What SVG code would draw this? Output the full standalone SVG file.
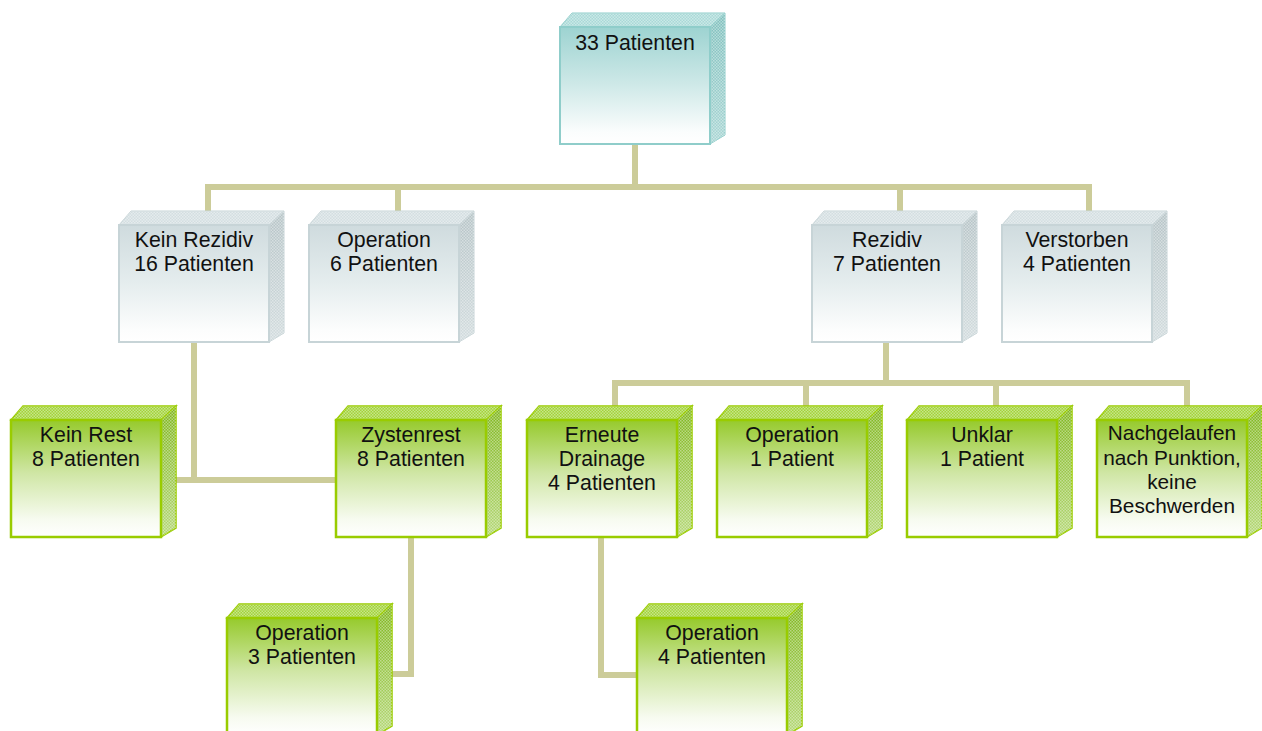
<svg xmlns="http://www.w3.org/2000/svg" xmlns:xlink="http://www.w3.org/1999/xlink" width="1262" height="731" viewBox="0 0 1262 731">
  <style>
    .lbl { font-family: "Liberation Sans", Arial, sans-serif; font-size: 21.3px; fill: #111; text-anchor: middle; }
    .conn { fill: none; stroke: #CCCC99; stroke-width: 6; }
  </style>
  <defs>
    <!-- front face gradients -->
    <linearGradient id="gTealFront" x1="0" y1="0" x2="0" y2="1">
      <stop offset="0" stop-color="#9dd3d1"/>
      <stop offset="0.5" stop-color="#cfe9e8"/>
      <stop offset="0.9" stop-color="#fbfdfd"/>
      <stop offset="1" stop-color="#ffffff"/>
    </linearGradient>
    <linearGradient id="gGrayFront" x1="0" y1="0" x2="0" y2="1">
      <stop offset="0" stop-color="#cfdbde"/>
      <stop offset="0.5" stop-color="#e5edee"/>
      <stop offset="0.9" stop-color="#fcfdfd"/>
      <stop offset="1" stop-color="#ffffff"/>
    </linearGradient>
    <linearGradient id="gGreenFront" x1="0" y1="0" x2="0" y2="1">
      <stop offset="0" stop-color="#96ca2c"/>
      <stop offset="0.45" stop-color="#cfe6a4"/>
      <stop offset="0.85" stop-color="#f7fbf0"/>
      <stop offset="1" stop-color="#ffffff"/>
    </linearGradient>
    <!-- side face gradients -->
    <linearGradient id="gTealSide" x1="0" y1="0" x2="0" y2="1">
      <stop offset="0" stop-color="#7fc0bd"/>
      <stop offset="1" stop-color="#a9d6d4"/>
    </linearGradient>
    <linearGradient id="gGraySide" x1="0" y1="0" x2="0" y2="1">
      <stop offset="0" stop-color="#b5c3c6"/>
      <stop offset="1" stop-color="#d2dcde"/>
    </linearGradient>
    <linearGradient id="gGreenSide" x1="0" y1="0" x2="0" y2="1">
      <stop offset="0" stop-color="#7fb61c"/>
      <stop offset="1" stop-color="#b5d878"/>
    </linearGradient>
    <!-- fine checker texture laid over bevels -->
    <pattern id="pDots" width="3" height="3" patternUnits="userSpaceOnUse">
      <rect width="1.5" height="1.5" fill="#ffffff" fill-opacity="0.4"/>
      <rect x="1.5" y="1.5" width="1.5" height="1.5" fill="#ffffff" fill-opacity="0.4"/>
    </pattern>

    <!-- 3D boxes, front face at (0,0) 150x117 -->
    <g id="boxTeal">
      <polygon points="0,0 12,-14 165,-14 150,0" fill="#a9d9d7" stroke="#8fcdca" stroke-width="1"/>
      <polygon points="0,0 12,-14 165,-14 150,0" fill="url(#pDots)"/>
      <polygon points="150,0 165,-14 165,108 150,117" fill="url(#gTealSide)" stroke="#8fcdca" stroke-width="1"/>
      <polygon points="150,0 165,-14 165,108 150,117" fill="url(#pDots)"/>
      <rect x="0" y="0" width="150" height="117" fill="url(#gTealFront)" stroke="#8fcdca" stroke-width="2"/>
    </g>
    <g id="boxGray">
      <polygon points="0,0 12,-14 165,-14 150,0" fill="#d3dee1" stroke="#c7d4d7" stroke-width="1"/>
      <polygon points="0,0 12,-14 165,-14 150,0" fill="url(#pDots)"/>
      <polygon points="150,0 165,-14 165,108 150,117" fill="url(#gGraySide)" stroke="#c7d4d7" stroke-width="1"/>
      <polygon points="150,0 165,-14 165,108 150,117" fill="url(#pDots)"/>
      <rect x="0" y="0" width="150" height="117" fill="url(#gGrayFront)" stroke="#c7d4d7" stroke-width="2"/>
    </g>
    <g id="boxGreen">
      <polygon points="0,0 12,-14 165,-14 150,0" fill="#a2d33a" stroke="#99cc00" stroke-width="1.5"/>
      <polygon points="0,0 12,-14 165,-14 150,0" fill="url(#pDots)"/>
      <polygon points="150,0 165,-14 165,108 150,117" fill="url(#gGreenSide)" stroke="#99cc00" stroke-width="1.5"/>
      <polygon points="150,0 165,-14 165,108 150,117" fill="url(#pDots)"/>
      <rect x="0" y="0" width="150" height="117" fill="url(#gGreenFront)" stroke="#99cc00" stroke-width="2.5"/>
    </g>
  </defs>

  <rect width="1262" height="731" fill="#ffffff"/>

  <!-- connectors -->
  <g id="connectors">
    <path class="conn" d="M635,143 V187 M205,187 H1092 M208,187 V214 M398,187 V214 M900,187 V214 M1089,187 V214"/>
    <path class="conn" d="M194,342 V480 M175,480 H338"/>
    <path class="conn" d="M411,538 V674 H390"/>
    <path class="conn" d="M886,342 V383 M612,383 H1190 M615,383 V410 M806,383 V410 M996,383 V410 M1187,383 V410"/>
    <path class="conn" d="M601,538 V675 H639"/>
  </g>

  <!-- nodes -->
  <g id="n-root" transform="translate(560,27)">
    <use xlink:href="#boxTeal"/>
    <text class="lbl" x="75" y="23">33 Patienten</text>
  </g>

  <g id="n-kein-rezidiv" transform="translate(119,225)">
    <use xlink:href="#boxGray"/>
    <text class="lbl" x="75" y="21.5">Kein Rezidiv</text>
    <text class="lbl" x="75" y="46">16 Patienten</text>
  </g>
  <g id="n-operation-6" transform="translate(309,225)">
    <use xlink:href="#boxGray"/>
    <text class="lbl" x="75" y="21.5">Operation</text>
    <text class="lbl" x="75" y="46">6 Patienten</text>
  </g>
  <g id="n-rezidiv" transform="translate(812,225)">
    <use xlink:href="#boxGray"/>
    <text class="lbl" x="75" y="21.5">Rezidiv</text>
    <text class="lbl" x="75" y="46">7 Patienten</text>
  </g>
  <g id="n-verstorben" transform="translate(1002,225)">
    <use xlink:href="#boxGray"/>
    <text class="lbl" x="75" y="21.5">Verstorben</text>
    <text class="lbl" x="75" y="46">4 Patienten</text>
  </g>

  <g id="n-kein-rest" transform="translate(11,420)">
    <use xlink:href="#boxGreen"/>
    <text class="lbl" x="75" y="22">Kein Rest</text>
    <text class="lbl" x="75" y="46">8 Patienten</text>
  </g>
  <g id="n-zystenrest" transform="translate(336,420)">
    <use xlink:href="#boxGreen"/>
    <text class="lbl" x="75" y="22">Zystenrest</text>
    <text class="lbl" x="75" y="46">8 Patienten</text>
  </g>
  <g id="n-erneute-drainage" transform="translate(527,420)">
    <use xlink:href="#boxGreen"/>
    <text class="lbl" x="75" y="22">Erneute</text>
    <text class="lbl" x="75" y="46">Drainage</text>
    <text class="lbl" x="75" y="70">4 Patienten</text>
  </g>
  <g id="n-operation-1" transform="translate(717,420)">
    <use xlink:href="#boxGreen"/>
    <text class="lbl" x="75" y="22">Operation</text>
    <text class="lbl" x="75" y="46">1 Patient</text>
  </g>
  <g id="n-unklar" transform="translate(907,420)">
    <use xlink:href="#boxGreen"/>
    <text class="lbl" x="75" y="22">Unklar</text>
    <text class="lbl" x="75" y="46">1 Patient</text>
  </g>
  <g id="n-nachgelaufen" transform="translate(1097,420)">
    <use xlink:href="#boxGreen"/>
    <text class="lbl" x="75" y="20" style="font-size:20.8px">Nachgelaufen</text>
    <text class="lbl" x="75" y="44.5" style="font-size:20.8px">nach Punktion,</text>
    <text class="lbl" x="75" y="69" style="font-size:20.8px">keine</text>
    <text class="lbl" x="75" y="93" style="font-size:20.8px">Beschwerden</text>
  </g>

  <g id="n-operation-3" transform="translate(227,618)">
    <use xlink:href="#boxGreen"/>
    <text class="lbl" x="75" y="22">Operation</text>
    <text class="lbl" x="75" y="46">3 Patienten</text>
  </g>
  <g id="n-operation-4" transform="translate(637,618)">
    <use xlink:href="#boxGreen"/>
    <text class="lbl" x="75" y="22">Operation</text>
    <text class="lbl" x="75" y="46">4 Patienten</text>
  </g>
</svg>
